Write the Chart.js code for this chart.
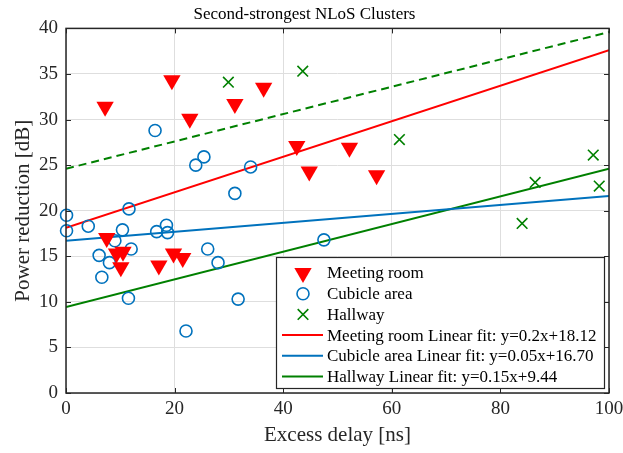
<!DOCTYPE html>
<html>
<head>
<meta charset="utf-8">
<script src="https://cdn.jsdelivr.net/npm/chart.js@4.4.1/dist/chart.umd.min.js"></script>
<style>
body{margin:0;background:#fff;}
</style>
</head>
<body>
<canvas id="c" width="623" height="453"></canvas>
<script>
// data
var meetX = [7.2, 19.5, 22.8, 31.1, 36.4, 42.5, 44.8, 52.2, 57.2, 7.5, 9.3, 10.5, 10.1, 17.1, 19.8, 21.5];
var meetY = [31.4, 34.3, 30.1, 31.7, 33.5, 27.1, 24.3, 26.9, 23.9, 17.0, 15.3, 15.5, 13.8, 14.0, 15.3, 14.8];

var cubX = [0.1, 0.1, 4.1, 11.6, 10.4, 9.0, 6.1, 12.0, 8.0, 6.6, 11.5, 16.7, 18.5, 18.7, 31.1, 26.1, 28.0, 22.1, 31.7, 16.4, 23.9, 25.4, 34.0, 47.5];
var cubY = [19.5, 17.8, 18.3, 20.2, 17.9, 16.7, 15.1, 15.8, 14.3, 12.7, 10.4, 17.7, 18.4, 17.6, 21.9, 15.8, 14.3, 6.8, 10.3, 28.8, 25.0, 25.9, 24.8, 16.8];

var hallX = [29.9, 43.6, 61.4, 97.1, 86.4, 98.2, 84.0];
var hallY = [34.1, 35.3, 27.8, 26.1, 23.1, 22.7, 18.6];

// fit lines, ends at x=0 and x=100
var fitX = [0, 100];
var meetFit = [18.12, 37.6];
var cubFit = [16.70, 21.6];
var hallFit = [9.44, 24.6];
var hallUpper = [24.6, 39.6];

var xTicks = [0, 20, 40, 60, 80, 100];
var yTicks = [0, 5, 10, 15, 20, 25, 30, 35, 40];

var legendLabels = ['Meeting room', 'Cubicle area', 'Hallway',
  'Meeting room Linear fit: y=0.2x+18.12',
  'Cubicle area Linear fit: y=0.05x+16.70',
  'Hallway Linear fit: y=0.15x+9.44'];

var RED = '#ff0000', BLUE = '#0072bd', GREEN = '#008000';
var SERIF = '"Liberation Serif", "Times New Roman", serif';

function pts(xs, ys) {
  return xs.map(function (x, i) { return {x: x, y: ys[i]}; });
}

var markerSets = [
  {label: legendLabels[0], data: pts(meetX, meetY), pointStyle: 'triangle', rotation: 180,
   pointRadius: 10, backgroundColor: RED, borderColor: RED, pointBorderWidth: 0, showLine: false, clip: false},
  {label: legendLabels[1], data: pts(cubX, cubY), pointStyle: 'circle',
   pointRadius: 6, backgroundColor: 'rgba(0,0,0,0)', borderColor: BLUE, pointBorderWidth: 1.6, showLine: false, clip: false},
  {label: legendLabels[2], data: pts(hallX, hallY), pointStyle: 'crossRot',
   pointRadius: 7.5, backgroundColor: GREEN, borderColor: GREEN, pointBorderWidth: 1.6, showLine: false, clip: false}
];
var lineSets = [
  {label: legendLabels[3], data: pts(fitX, meetFit), borderColor: RED, borderWidth: 2, pointRadius: 0, showLine: true},
  {label: legendLabels[4], data: pts(fitX, cubFit), borderColor: BLUE, borderWidth: 2, pointRadius: 0, showLine: true},
  {label: legendLabels[5], data: pts(fitX, hallFit), borderColor: GREEN, borderWidth: 2, pointRadius: 0, showLine: true},
  {label: 'upper', data: pts(fitX, hallUpper), borderColor: GREEN, borderWidth: 2, borderDash: [8, 5], pointRadius: 0, showLine: true}
];

var frame = {
  id: 'frame',
  afterDatasetsDraw: function (chart) {
    var ctx = chart.ctx, a = chart.chartArea;
    var xs = chart.scales.x, ys = chart.scales.y;
    ctx.save();
    ctx.strokeStyle = '#262626';
    ctx.lineWidth = 1;
    ctx.beginPath();
    xTicks.forEach(function (v) {
      var p = Math.round(xs.getPixelForValue(v)) + 0.5;
      ctx.moveTo(p, a.bottom); ctx.lineTo(p, a.bottom - 5);
      ctx.moveTo(p, a.top); ctx.lineTo(p, a.top + 5);
    });
    yTicks.forEach(function (v) {
      var p = Math.round(ys.getPixelForValue(v)) + 0.5;
      ctx.moveTo(a.left, p); ctx.lineTo(a.left + 5, p);
      ctx.moveTo(a.right, p); ctx.lineTo(a.right - 5, p);
    });
    ctx.stroke();
    ctx.lineWidth = 1.5;
    ctx.strokeRect(a.left, a.top, a.right - a.left, a.bottom - a.top);

    // legend box
    var bx = 276, by = 257, bw = 328, bh = 131, row = 20.7, y0 = 273;
    ctx.fillStyle = '#fff';
    ctx.fillRect(bx, by, bw, bh);
    ctx.lineWidth = 1.2;
    ctx.strokeStyle = '#262626';
    ctx.strokeRect(bx + 0.5, by + 0.5, bw, bh);
    ctx.font = '17px ' + SERIF;
    ctx.textBaseline = 'middle';
    ctx.textAlign = 'left';
    var sets = chart.data.datasets;
    for (var i = 0; i < 6; i++) {
      var ds = sets[i], yy = y0 + i * row;
      if (i < 3) {
        ctx.fillStyle = ds.backgroundColor;
        ctx.strokeStyle = ds.borderColor;
        ctx.lineWidth = ds.pointBorderWidth;
        Chart.helpers.drawPoint(ctx, {pointStyle: ds.pointStyle, radius: ds.pointRadius,
          rotation: ds.rotation || 0, borderWidth: ds.pointBorderWidth}, 303, yy);
      } else {
        ctx.strokeStyle = ds.borderColor;
        ctx.lineWidth = 2;
        ctx.beginPath();
        ctx.moveTo(282, yy); ctx.lineTo(323, yy);
        ctx.stroke();
      }
      ctx.fillStyle = '#000';
      ctx.fillText(legendLabels[i], 327, yy + 1);
    }
    ctx.restore();
  }
};

new Chart(document.getElementById('c'), {
  type: 'scatter',
  data: {datasets: markerSets.concat(lineSets)},
  options: {
    responsive: false,
    animation: false,
    layout: {padding: {right: 14, left: 0, bottom: 0}},
    plugins: {
      legend: {display: false},
      tooltip: {enabled: false},
      title: {display: true, text: 'Second-strongest NLoS Clusters', color: '#000',
        font: {family: SERIF, size: 17, weight: 'normal'}, padding: {top: 4, bottom: 4}}
    },
    scales: {
      x: {
        type: 'linear', min: 0, max: 100,
        ticks: {stepSize: 20, color: '#262626', font: {family: SERIF, size: 19}, padding: 5, maxRotation: 0},
        grid: {color: '#dedede', lineWidth: 1, drawTicks: false},
        border: {display: false},
        title: {display: true, text: 'Excess delay [ns]', color: '#262626',
          font: {family: SERIF, size: 21}, padding: {top: 0, bottom: 5}},
        afterFit: function (s) { s.height = 60; s.paddingRight = 0; s.paddingLeft = 0; }
      },
      y: {
        type: 'linear', min: 0, max: 40,
        ticks: {stepSize: 5, color: '#262626', font: {family: SERIF, size: 19}, padding: 8},
        grid: {color: '#dedede', lineWidth: 1, drawTicks: false},
        border: {display: false},
        title: {display: true, text: 'Power reduction [dB]', color: '#262626',
          font: {family: SERIF, size: 21}, padding: {top: 11, bottom: 0}},
        afterFit: function (s) { s.width = 66; }
      }
    }
  },
  plugins: [frame]
});
</script>
</body>
</html>
